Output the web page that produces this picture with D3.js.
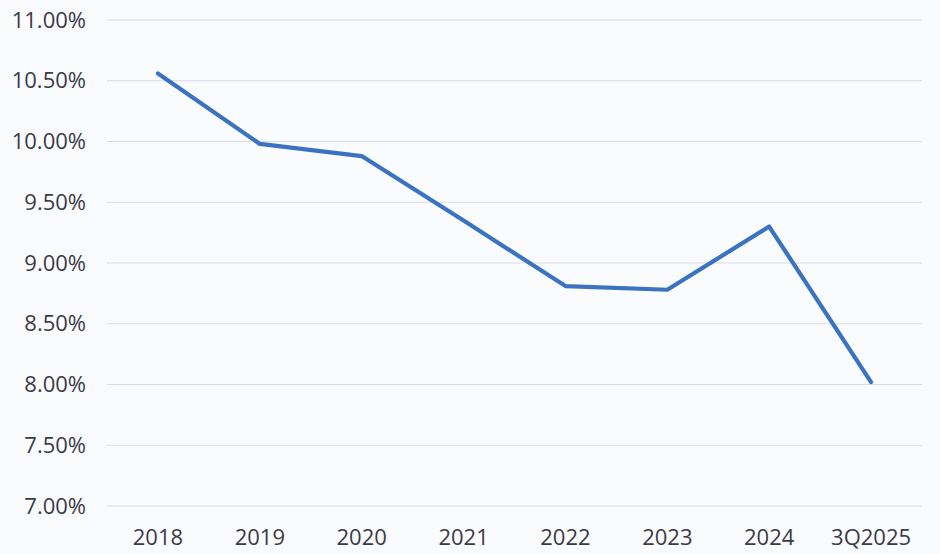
<!DOCTYPE html>
<html><head><meta charset="utf-8">
<script src="https://cdn.jsdelivr.net/npm/d3@7"></script>
<style>
html,body{margin:0;padding:0;background:#fafbfd;}
svg{display:block;}
text{font-family:"Open Sans",sans-serif;}
</style></head>
<body>
<svg id="chart" width="940" height="554"></svg>
<script>
const categories = ["2018","2019","2020","2021","2022","2023","2024","3Q2025"];
const values = [10.56, 9.98, 9.88, 9.35, 8.81, 8.78, 9.30, 8.02];
const yTicks = [7.0, 7.5, 8.0, 8.5, 9.0, 9.5, 10.0, 10.5, 11.0];

const svg = d3.select("#chart");
const plotLeft = 107, plotRight = 922, plotTop = 20, plotBottom = 506;

const x = d3.scaleBand().domain(categories).range([plotLeft, plotRight]).padding(0);
const y = d3.scaleLinear().domain([7, 11]).range([plotBottom, plotTop]);

// gridlines
svg.append("g").selectAll("line").data(yTicks).join("line")
  .attr("x1", plotLeft).attr("x2", plotRight)
  .attr("y1", d => y(d)).attr("y2", d => y(d))
  .attr("stroke", "#d9dce3").attr("stroke-width", 1.2);

// y labels
svg.append("g").selectAll("text").data(yTicks).join("text")
  .attr("x", 86).attr("y", d => y(d)).attr("dy", "0.35em")
  .attr("text-anchor", "end").attr("font-size", 22).attr("fill", "#3b3a48")
  .text(d => d.toFixed(2) + "%");

// x labels
svg.append("g").selectAll("text").data(categories).join("text")
  .attr("x", d => x(d) + x.bandwidth() / 2).attr("y", 545)
  .attr("text-anchor", "middle").attr("font-size", 22).attr("fill", "#3b3a48")
  .text(d => d);

// line
const line = d3.line()
  .x((d, i) => x(categories[i]) + x.bandwidth() / 2)
  .y(d => y(d));
svg.append("path").datum(values)
  .attr("d", line)
  .attr("fill", "none").attr("stroke", "#3b73c1").attr("stroke-width", 4.2)
  .attr("stroke-linejoin", "round").attr("stroke-linecap", "round");
</script>
</body></html>
